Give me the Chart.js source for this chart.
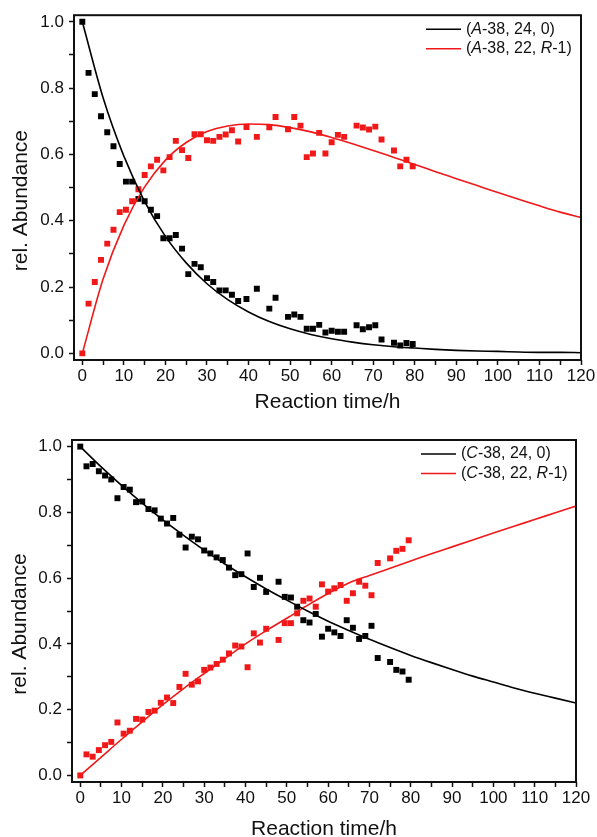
<!DOCTYPE html>
<html>
<head>
<meta charset="utf-8">
<script src="https://cdn.jsdelivr.net/npm/chart.js@4.4.1/dist/chart.umd.min.js"></script>
<style>
  html, body { margin: 0; padding: 0; background: #fff; overflow: hidden; }
  #wrap { position: relative; width: 597px; height: 837px; }
  canvas { position: absolute; left: 0; }
</style>
</head>
<body>
<div id="wrap">
  <canvas id="graficoA" width="597" height="418" style="top:0px"></canvas>
  <canvas id="graficoC" width="597" height="430" style="top:418px"></canvas>
</div>
<script>
// tempos de reação medidos (h) - painel A
const tempoA = [0, 1.5, 3, 4.5, 6, 7.5, 9, 10.5, 12, 13.5, 15, 16.5, 18, 19.5, 21, 22.5, 24, 25.5, 27, 28.5,
    30, 31.5, 33, 34.5, 36, 37.5, 39.5, 42, 45, 46.5, 49.5, 51, 52.5, 54, 55.5, 57, 58.5, 60, 61.5, 63,
    66, 67.5, 69, 70.5, 72, 75, 76.5, 78, 79.5];
const abund24A = [1.0, 0.846, 0.782, 0.715, 0.667, 0.625, 0.571, 0.518, 0.518, 0.466,
    0.459, 0.433, 0.414, 0.347, 0.347, 0.357, 0.316, 0.239, 0.270, 0.260,
    0.227, 0.215, 0.190, 0.190, 0.177, 0.158, 0.164, 0.195, 0.135, 0.168,
    0.110, 0.117, 0.110, 0.074, 0.074, 0.086, 0.063, 0.068, 0.065, 0.065,
    0.085, 0.073, 0.079, 0.085, 0.042, 0.032, 0.024, 0.031, 0.028];
const abund22A = [0, 0.150, 0.215, 0.282, 0.331, 0.373, 0.426, 0.433, 0.459, 0.495,
    0.538, 0.564, 0.584, 0.552, 0.592, 0.641, 0.613, 0.589, 0.661, 0.661,
    0.643, 0.641, 0.653, 0.660, 0.673, 0.639, 0.683, 0.653, 0.682, 0.713,
    0.676, 0.713, 0.687, 0.592, 0.603, 0.665, 0.603, 0.637, 0.659, 0.653,
    0.687, 0.681, 0.675, 0.684, 0.645, 0.612, 0.564, 0.584, 0.564];

// painel C
const tempoC = [0, 1.5, 3, 4.5, 6, 7.5, 9, 10.5, 12, 13.5, 15, 16.5, 18, 19.5, 21, 22.5, 24, 25.5, 27, 28.5,
    30, 31.5, 33, 34.5, 36, 37.5, 39, 40.5, 42, 43.5, 45, 48, 49.5, 51, 52.5, 54, 55.5, 57, 58.5, 60,
    61.5, 63, 64.5, 66, 67.5, 69, 70.5, 72, 75, 76.5, 78, 79.5];
const abund24C = [1.0, 0.940, 0.947, 0.925, 0.912, 0.900, 0.843, 0.877, 0.869, 0.831,
    0.833, 0.810, 0.806, 0.781, 0.766, 0.783, 0.732, 0.693, 0.726, 0.718,
    0.684, 0.675, 0.663, 0.655, 0.632, 0.609, 0.612, 0.675, 0.573, 0.601,
    0.558, 0.589, 0.543, 0.541, 0.513, 0.472, 0.465, 0.491, 0.422, 0.446,
    0.435, 0.424, 0.472, 0.449, 0.415, 0.424, 0.455, 0.357, 0.345, 0.321,
    0.316, 0.291];
const abund22C = [0, 0.064, 0.057, 0.077, 0.092, 0.102, 0.161, 0.127, 0.136, 0.172,
    0.170, 0.193, 0.197, 0.221, 0.237, 0.220, 0.269, 0.309, 0.276, 0.286,
    0.321, 0.328, 0.339, 0.352, 0.371, 0.395, 0.392, 0.329, 0.432, 0.404,
    0.446, 0.412, 0.463, 0.463, 0.493, 0.531, 0.538, 0.513, 0.581, 0.559,
    0.569, 0.579, 0.531, 0.554, 0.589, 0.577, 0.548, 0.646, 0.660, 0.683,
    0.689, 0.715];

const tempoFit = [0, 5, 10, 15, 20, 25, 30, 35, 40, 45, 50, 55, 60, 65, 70, 75, 80, 85, 90, 95, 100, 105, 110, 115, 120];
const fit24A = [1.0, 0.771, 0.595, 0.458, 0.353, 0.273, 0.210, 0.162, 0.125, 0.096, 0.074, 0.057, 0.044,
    0.034, 0.026, 0.020, 0.016, 0.012, 0.009, 0.007, 0.006, 0.004, 0.003, 0.003, 0.002];
const fit22A = [0, 0.224, 0.386, 0.502, 0.583, 0.636, 0.669, 0.686, 0.692, 0.690, 0.681, 0.668, 0.651,
    0.632, 0.612, 0.591, 0.570, 0.548, 0.527, 0.506, 0.485, 0.465, 0.445, 0.426, 0.410];
const fit24C = [1.0, 0.939, 0.882, 0.828, 0.777, 0.730, 0.685, 0.643, 0.604, 0.567, 0.533, 0.500, 0.469,
    0.441, 0.414, 0.389, 0.365, 0.343, 0.322, 0.302, 0.284, 0.266, 0.250, 0.235, 0.220];
const fit22C = [0, 0.055, 0.110, 0.163, 0.215, 0.264, 0.310, 0.355, 0.400, 0.440, 0.478, 0.517, 0.553,
    0.585, 0.608, 0.630, 0.652, 0.674, 0.695, 0.716, 0.737, 0.758, 0.778, 0.799, 0.819];

// marcas dos eixos
const xTicks = [0, 5, 10, 15, 20, 25, 30, 35, 40, 45, 50, 55, 60, 65, 70, 75, 80, 85, 90, 95, 100, 105, 110, 115, 120];
const yTicks = [0, 0.1, 0.2, 0.3, 0.4, 0.5, 0.6, 0.7, 0.8, 0.9, 1.0];

// legendas: trechos de índice ímpar em itálico
const legendaA = [['(', 'A', '-38, 24, 0)'], ['(', 'A', '-38, 22, ', 'R', '-1)']];
const legendaC = [['(', 'C', '-38, 24, 0)'], ['(', 'C', '-38, 22, ', 'R', '-1)']];

const FONTE = '"Liberation Sans", Arial, Helvetica, sans-serif';
const PRETO = '#000000';
const VERMELHO = '#f01818';

function pares(xs, ys) {
    return xs.map((x, i) => ({ x: x, y: ys[i] }));
}

// moldura, título do eixo y e legenda
const moldura = {
    id: 'moldura',
    afterDraw(chart, args, opts) {
        const ctx = chart.ctx;
        const a = chart.chartArea;
        ctx.save();
        ctx.strokeStyle = '#111';
        ctx.lineWidth = 2;
        ctx.strokeRect(a.left, a.top, a.right - a.left, a.bottom - a.top);

        ctx.fillStyle = '#111';
        ctx.font = '21px ' + FONTE;
        ctx.textAlign = 'center';
        ctx.textBaseline = 'middle';
        ctx.save();
        ctx.translate(opts.yTitleX, (a.top + a.bottom) / 2 + opts.yTitleShift);
        ctx.rotate(-Math.PI / 2);
        ctx.fillText('rel. Abundance', 0, 0);
        ctx.restore();

        ctx.textAlign = 'left';
        opts.legenda.forEach((partes, i) => {
            const y = a.top + opts.legTop + i * opts.legGap;
            ctx.strokeStyle = opts.cores[i];
            ctx.lineWidth = 1.5;
            ctx.beginPath();
            ctx.moveTo(a.right - opts.legRight, y);
            ctx.lineTo(a.right - opts.legRight + 35, y);
            ctx.stroke();
            let x = a.right - opts.legRight + 40;
            partes.forEach((t, j) => {
                ctx.font = (j % 2 ? 'italic ' : '') + '16px ' + FONTE;
                ctx.fillStyle = '#111';
                ctx.fillText(t, x, y);
                x += ctx.measureText(t).width;
            });
        });
        ctx.restore();
    }
};

function montarGrafico(id, cfg) {
    const ctx = document.getElementById(id).getContext('2d');
    return new Chart(ctx, {
        type: 'scatter',
        data: {
            datasets: [
                { data: pares(tempoFit, cfg.fit24), showLine: true, borderColor: PRETO, borderWidth: 1.6,
                  pointRadius: 0, tension: 0.4, cubicInterpolationMode: 'monotone' },
                { data: pares(tempoFit, cfg.fit22), showLine: true, borderColor: VERMELHO, borderWidth: 1.6,
                  pointRadius: 0, tension: 0.4, cubicInterpolationMode: 'monotone' },
                { data: pares(cfg.tempo, cfg.abund24), pointStyle: 'rect', pointRadius: 4.2,
                  backgroundColor: PRETO, borderWidth: 0 },
                { data: pares(cfg.tempo, cfg.abund22), pointStyle: 'rect', pointRadius: 4.2,
                  backgroundColor: VERMELHO, borderWidth: 0 }
            ]
        },
        options: {
            responsive: false,
            animation: false,
            layout: { padding: { top: cfg.padTop, right: cfg.padRight, left: 0, bottom: 0 } },
            plugins: {
                legend: { display: false },
                tooltip: { enabled: false },
                moldura: {
                    yTitleX: cfg.yTitleX, yTitleShift: 13,
                    legenda: cfg.legenda, cores: [PRETO, VERMELHO],
                    legTop: 14, legGap: 19.5, legRight: 155
                }
            },
            scales: {
                x: {
                    type: 'linear', min: -2, max: 120,
                    afterBuildTicks: (s) => { s.ticks = xTicks.map(v => ({ value: v })); },
                    afterFit: (s) => { s.height = cfg.xHeight; },
                    grid: { drawOnChartArea: false, drawTicks: true, tickLength: 5, tickColor: '#111', tickWidth: 1.5 },
                    border: { display: false },
                    ticks: {
                        padding: 1, color: '#111', maxRotation: 0, autoSkip: false,
                        font: { family: FONTE, size: 17 },
                        callback: (v) => (v % 10 === 0 ? String(v) : '')
                    },
                    title: {
                        display: true, text: 'Reaction time/h', color: '#111',
                        font: { family: FONTE, size: 21 },
                        padding: { top: 0, bottom: cfg.xTitlePad }
                    }
                },
                y: {
                    type: 'linear', min: -0.02, max: 1.02,
                    afterBuildTicks: (s) => { s.ticks = yTicks.map(v => ({ value: v })); },
                    afterFit: (s) => { s.width = cfg.yWidth; },
                    grid: { drawOnChartArea: false, drawTicks: true, tickLength: 5, tickColor: '#111', tickWidth: 1.5 },
                    border: { display: false },
                    ticks: {
                        padding: 5, color: '#111', autoSkip: false,
                        font: { family: FONTE, size: 17 },
                        callback: (v) => (Math.round(v * 10) % 2 === 0 ? v.toFixed(1) : '')
                    }
                }
            }
        },
        plugins: [moldura]
    });
}

montarGrafico('graficoA', {
    tempo: tempoA, abund24: abund24A, abund22: abund22A,
    fit24: fit24A, fit22: fit22A, legenda: legendaA,
    padTop: 15, padRight: 16, yWidth: 74, xHeight: 58, xTitlePad: 3, yTitleX: 21
});

montarGrafico('graficoC', {
    tempo: tempoC, abund24: abund24C, abund22: abund22C,
    fit24: fit24C, fit22: fit22C, legenda: legendaC,
    padTop: 22, padRight: 21, yWidth: 72, xHeight: 66, xTitlePad: 6, yTitleX: 20
});
</script>
</body>
</html>
